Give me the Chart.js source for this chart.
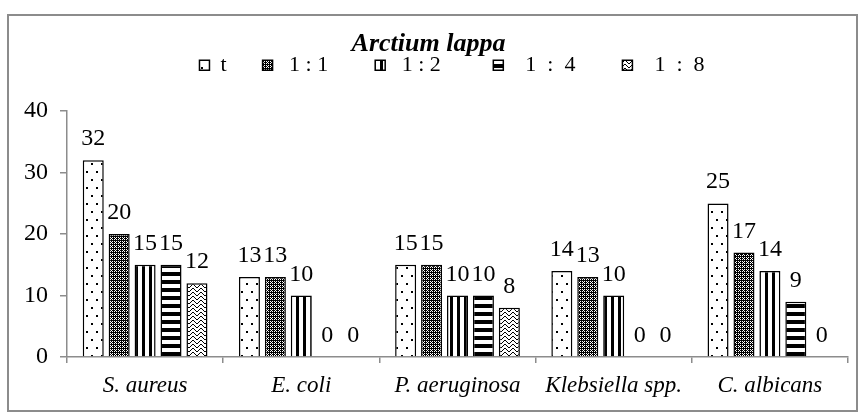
<!DOCTYPE html>
<html>
<head>
  <meta charset="UTF-8">
  <title>Arctium lappa</title>
  <script src="https://cdn.jsdelivr.net/npm/chart.js"></script>
  <style>
    body {
      margin: 0;
      background: #fff;
    }
    .frame {
      position: absolute;
      left: 7px;
      top: 14px;
      width: 851px;
      height: 398px;
      border: 2px solid #8c8c8c;
      box-sizing: border-box;
    }
  </style>
</head>
<body>
  <div class="frame">
    <canvas id="chart"></canvas>
  </div>

  <script>
    // data
    const categories = ['S. aureus', 'E. coli', 'P. aeruginosa', 'Klebsiella spp.', 'C. albicans'];
    const seriesNames = ['t', '1 : 1', '1 : 2', '1 : 4', '1 : 8'];
    // legend text as it is spaced in the original
    const legendText = ['t', ' 1 : 1', ' 1 : 2', '  1  :  4', '  1  :  8'];
    const legendGap = [6, 8, 9, 8, 2];
    const valT   = [32, 13, 15, 14, 25];
    const val1_1 = [20, 13, 15, 13, 17];
    const val1_2 = [15, 10, 10, 10, 14];
    const val1_4 = [15, 0, 10, 0, 9];
    const val1_8 = [12, 0, 8, 0, 0];
    const yTicks = [0, 10, 20, 30, 40];

    const serif = "'Liberation Serif', 'Times New Roman', serif";

    // hatch fills like the old office patterns
    function makePattern(w, h, draw) {
      const c = document.createElement('canvas');
      c.width = w; c.height = h;
      const g = c.getContext('2d');
      g.fillStyle = '#fff';
      g.fillRect(0, 0, w, h);
      g.fillStyle = '#000';
      g.strokeStyle = '#000';
      draw(g);
      return document.getElementById('chart').getContext('2d').createPattern(c, 'repeat');
    }

    const patDots = makePattern(10, 16, g => {
      g.fillRect(2, 3, 2, 2);
      g.fillRect(7, 11, 2, 2);
    });
    const patCheck = makePattern(4, 4, g => {
      g.fillRect(0, 0, 4, 4);
      g.fillStyle = '#fff';
      g.fillRect(1, 1, 1, 1);
      g.fillRect(3, 3, 1, 1);
      g.fillRect(3, 1, 1, 1);
      g.fillRect(1, 3, 1, 1);
      g.fillRect(2, 2, 1, 1);
    });
    const patVert = makePattern(7, 4, g => {
      g.fillRect(0, 0, 3, 4);
    });
    const patHorz = makePattern(4, 8, g => {
      g.fillRect(0, 0, 4, 4);
    });
    const patWeave = makePattern(8, 8, g => {
      g.lineWidth = 1;
      g.beginPath();
      g.moveTo(0, 0); g.lineTo(4, 4); g.lineTo(8, 0);
      g.moveTo(0, 4); g.lineTo(4, 8); g.lineTo(8, 4);
      g.stroke();
    });

    const fills = [patDots, patCheck, patVert, patHorz, patWeave];
    const values = [valT, val1_1, val1_2, val1_4, val1_8];

    const valueLabels = {
      id: 'valueLabels',
      afterDatasetsDraw(chart) {
        const ctx = chart.ctx;
        ctx.save();
        ctx.font = '24px ' + serif;
        ctx.fillStyle = '#000';
        ctx.textAlign = 'center';
        ctx.textBaseline = 'alphabetic';
        chart.data.datasets.forEach((ds, i) => {
          chart.getDatasetMeta(i).data.forEach((bar, j) => {
            ctx.fillText(ds.data[j], bar.x, bar.y - 15);
          });
        });
        ctx.restore();
      }
    };

    new Chart(document.getElementById('chart'), {
      type: 'bar',
      data: {
        labels: categories,
        datasets: seriesNames.map((name, i) => ({
          label: name,
          data: values[i],
          backgroundColor: fills[i],
          borderColor: '#000',
          borderWidth: 1.5,
          categoryPercentage: 0.83,
          barPercentage: 0.81
        }))
      },
      options: {
        responsive: true,
        maintainAspectRatio: false,
        animation: false,
        layout: { padding: { right: 8, left: 0, top: 0, bottom: 0 } },
        plugins: {
          title: {
            display: true,
            text: 'Arctium lappa',
            color: '#000',
            font: { family: serif, size: 26, style: 'italic', weight: 'bold' },
            padding: { top: 13, bottom: -9 }
          },
          // empty spacer between legend and plot
          subtitle: {
            display: true,
            text: ' ',
            weight: 500,
            fullSize: false,
            font: { size: 10 },
            padding: { top: 0, bottom: 13 }
          },
          legend: {
            position: 'top',
            fullSize: false,
            labels: {
              color: '#000',
              font: { family: serif, size: 22 },
              boxWidth: 10,
              boxHeight: 10,
              padding: 3,
              generateLabels(chart) {
                const items = Chart.defaults.plugins.legend.labels.generateLabels(chart);
                items.forEach((it, i) => {
                  it.text = legendText[i] + ' '.repeat(legendGap[i]);
                  it.lineWidth = 1.5;
                });
                return items;
              }
            }
          },
          tooltip: { enabled: false }
        },
        scales: {
          x: {
            afterFit(scale) { scale.height = 53; },
            grid: { display: true, drawOnChartArea: false, drawTicks: true, tickLength: 6, color: '#8c8c8c', lineWidth: 1.5 },
            border: { display: true, color: '#8c8c8c', width: 1.5 },
            ticks: {
              color: '#000',
              font: { family: serif, size: 23, style: 'italic' },
              padding: 9
            }
          },
          y: {
            min: 0,
            max: 40,
            afterFit(scale) { scale.width = 58; },
            afterBuildTicks(scale) { scale.ticks = yTicks.map(v => ({ value: v })); },
            grid: { display: true, drawOnChartArea: false, drawTicks: true, tickLength: 7, color: '#8c8c8c', lineWidth: 1.5 },
            border: { display: true, color: '#8c8c8c', width: 1.5 },
            ticks: {
              color: '#000',
              font: { family: serif, size: 24 },
              padding: 12
            }
          }
        }
      },
      plugins: [valueLabels]
    });
  </script>
</body>
</html>
